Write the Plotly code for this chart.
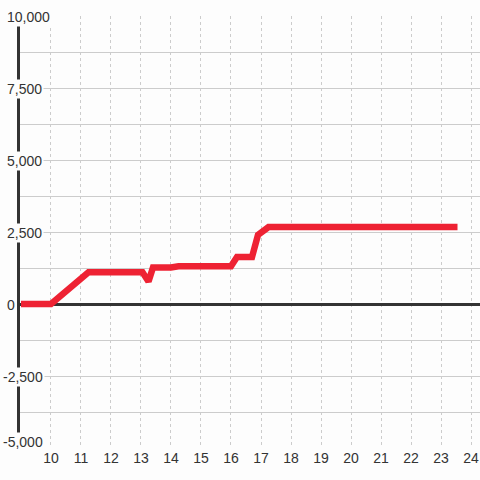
import plotly.graph_objects as go

# data
hours = [9.0, 10.0, 11.25, 13.05, 13.25, 13.4, 14.0, 14.25, 16.0, 16.2, 16.7, 16.9, 17.25, 23.55]
values = [0, 0, 1100, 1100, 780, 1270, 1270, 1310, 1310, 1630, 1630, 2400, 2670, 2670]
x_ticks = list(range(10, 25))
y_label_vals = [10000, 7500, 5000, 2500, 0, -2500, -5000]
y_label_text = ["10,000", "7,500", "5,000", "2,500", "0", "-2,500", "-5,000"]

bg = "#fdfdfd"
fig = go.Figure()
fig.add_trace(go.Scatter(x=hours, y=values, mode="lines",
                         line=dict(color="#ee2233", width=6.5), hoverinfo="skip"))

ann = []
for v, t in zip(y_label_vals, y_label_text):
    ann.append(dict(x=-15/460, xref="paper", y=v, yref="y", text=t, showarrow=False,
                    xanchor="left", yanchor="middle", bgcolor=bg, borderpad=1,
                    font=dict(family="Liberation Sans, Arial", size=14, color="#333333"),
                    yshift=(6 if v == min(y_label_vals) else -1),
                    xshift=(-4 if t.startswith("-") else 0)))

fig.update_layout(
    width=480, height=480,
    margin=dict(l=20, r=0, t=16, b=32),
    paper_bgcolor=bg, plot_bgcolor=bg,
    showlegend=False,
    annotations=ann,
    font=dict(family="Liberation Sans, Arial", size=14, color="#333333"),
    xaxis=dict(range=[8.967, 24.3], tickvals=x_ticks, ticktext=[str(t) for t in x_ticks],
               showgrid=True, gridcolor="#cccccc", griddash="dot", gridwidth=1,
               zeroline=False, showline=False, ticks="", ticklen=0,
               tickfont=dict(size=14, color="#333333")),
    yaxis=dict(range=[-5000, 10000], dtick=1250, tick0=0, showticklabels=False,
               showgrid=True, gridcolor="#cccccc", gridwidth=1,
               zeroline=True, zerolinecolor="#333333", zerolinewidth=3,
               showline=True, linecolor="#333333", linewidth=3, ticks=""),
)
fig.write_html("out.html", config={"displayModeBar": False, "staticPlot": True},
               post_script="document.body.style.margin='0px';document.body.style.background='%s';" % bg)
